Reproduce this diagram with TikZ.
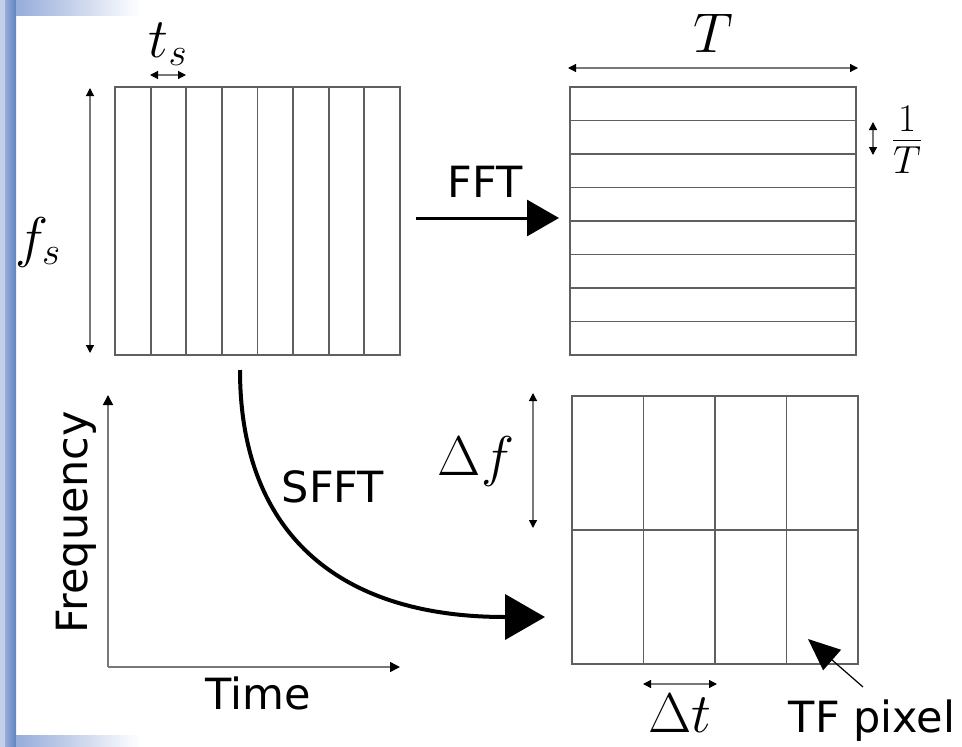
\RequirePackage{fix-cm}
\documentclass[tikz,border=0pt]{standalone}
\usepackage{fontspec}
\newfontfamily\dejavu{DejaVu Sans}
\usetikzlibrary{arrows.meta}
\definecolor{stripdark}{RGB}{98,132,194}
\definecolor{stripmid}{RGB}{150,172,218}
\definecolor{striplight}{RGB}{196,208,234}
\definecolor{gridc}{RGB}{95,95,95}
\definecolor{dimc}{RGB}{120,120,120}
\begin{document}
\begin{tikzpicture}[x=1pt,y=-1pt,
  gridline/.style={draw=gridc, line width=1.8pt},
  dimarrow/.style={draw=dimc, line width=1.2pt,
    {Triangle[length=8pt,width=8pt,color=black]}-{Triangle[length=8pt,width=8pt,color=black]}},
  axisarrow/.style={draw=dimc, line width=1.5pt, -{Triangle[length=10pt,width=10pt,color=black]}},
  fftarrow/.style={draw=black, line width=3pt, -{Triangle[length=32pt,width=36pt]}},
  sfftarrow/.style={draw=black, line width=4pt, -{Triangle[length=40pt,width=45pt]}},
  pixarrow/.style={draw=black, line width=1.2pt, -{Triangle[length=32pt,width=27pt]}},
  mathlbl/.style={font=\fontsize{56}{60}\selectfont, inner sep=0pt},
  txt/.style={font=\dejavu\fontsize{43}{50}\selectfont, inner sep=0pt}]
\useasboundingbox (0,0) rectangle (962,747);
% slide background decoration
\fill[striplight] (0,0) rectangle (5,747);
\shade[left color=stripmid, right color=stripdark] (5,0) rectangle (16,747);
\shade[left color=stripmid, right color=white] (16,0) rectangle (140,15);
\shade[left color=stripmid, right color=white] (16,735) rectangle (140,747);

% top-left grid (time samples)
\coordinate (g1a) at (115,87);
\coordinate (g1b) at (400,355);
\draw[gridline] (g1a) rectangle (g1b);
\foreach \i in {1,...,7} \draw[gridline] ({115+\i*35.625},87) -- ({115+\i*35.625},355);

% t_s
\coordinate (ts1) at (150,75);
\coordinate (ts2) at (186,75);
\draw[dimarrow] (ts1) -- (ts2);
\node[mathlbl, anchor=base] (tslbl) at (168,57) {$t_s$};

% f_s
\coordinate (fs1) at (90,88);
\coordinate (fs2) at (90,353);
\draw[dimarrow] (fs1) -- (fs2);
\node[mathlbl, anchor=base] (fslbl) at (38,256) {$f_s$};

% top-right grid (frequency)
\coordinate (g2a) at (570,87);
\coordinate (g2b) at (856,355);
\draw[gridline] (g2a) rectangle (g2b);
\foreach \i in {1,...,7} \draw[gridline] (570,{87+\i*33.5}) -- (856,{87+\i*33.5});

% T
\coordinate (T1) at (568,68);
\coordinate (T2) at (858,68);
\draw[dimarrow] (T1) -- (T2);
\node[mathlbl, anchor=base] (Tlbl) at (713,52) {$T$};

% 1/T
\coordinate (iT1) at (873,122);
\coordinate (iT2) at (873,155);
\draw[dimarrow] (iT1) -- (iT2);
\node[mathlbl] (iTlbl) at (907,140) {$\frac{1}{T}$};

% FFT arrow
\coordinate (fft1) at (416,218);
\coordinate (fft2) at (559,218);
\draw[fftarrow] (fft1) -- (fft2);
\node[txt, anchor=base] (fftlbl) at (485,197) {FFT};

% bottom-right grid (TF)
\coordinate (g3a) at (572,396);
\coordinate (g3b) at (858,664);
\draw[gridline] (g3a) rectangle (g3b);
\foreach \i in {1,2,3} \draw[gridline] ({572+\i*71.5},396) -- ({572+\i*71.5},664);
\draw[gridline] (572,530) -- (858,530);

% Delta f
\coordinate (df1) at (533,393);
\coordinate (df2) at (533,528);
\draw[dimarrow] (df1) -- (df2);
\node[mathlbl, anchor=base] (dflbl) at (476,475) {$\Delta f$};

% Delta t
\coordinate (dt1) at (643,684);
\coordinate (dt2) at (717,684);
\draw[dimarrow] (dt1) -- (dt2);
\node[mathlbl, anchor=base] (dtlbl) at (680,732) {$\Delta t$};

% TF pixel
\node[txt, anchor=base] (tfp) at (872,732) {TF pixel};
\coordinate (px1) at (863,687);
\coordinate (px2) at (808,639);
\draw[pixarrow] (px1) -- (px2);

% SFFT curve
\coordinate (s0) at (240,370);
\coordinate (s1) at (505,617);
\coordinate (s2) at (545,617);
\draw[sfftarrow] (s0) .. controls (240,530) and (335,617) .. (s1) -- (s2);
\node[txt, anchor=base] (sfftlbl) at (333,502) {SFFT};

% time-frequency axes
\coordinate (o) at (108,667);
\coordinate (ya) at (108,395);
\coordinate (xa) at (400,667);
\draw[axisarrow] (o) -- (ya);
\draw[axisarrow] (o) -- (xa);
\node[txt, anchor=base] (timelbl) at (258,709) {Time};
\node[txt, anchor=base, rotate=90] (freqlbl) at (87,522) {Frequency};
\end{tikzpicture}
\end{document}
